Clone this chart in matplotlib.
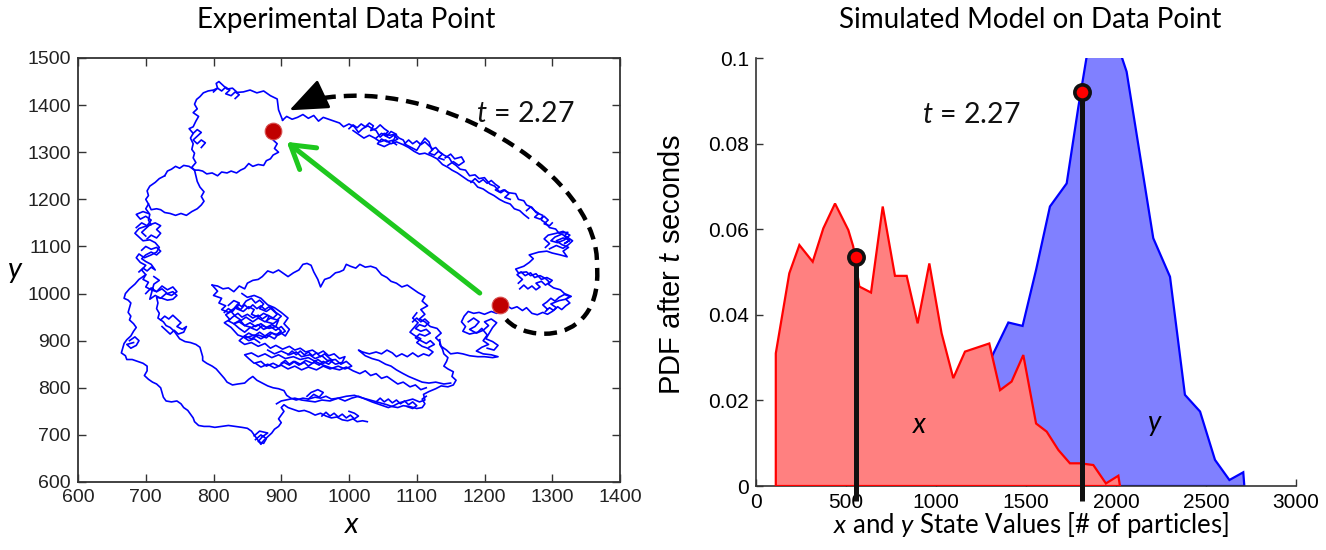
import matplotlib
matplotlib.use("Agg")
import matplotlib.pyplot as plt
import numpy as np
from matplotlib.path import Path
from matplotlib.patches import PathPatch

plt.rcParams['mathtext.fontset'] = 'custom'
plt.rcParams['mathtext.it'] = 'Lato:italic'
plt.rcParams['mathtext.rm'] = 'Lato'

# ---------------- Left panel: experimental trajectory (strands) -------------
top_arc = [(1325,1112),(1318,1122),(1323,1130),(1310,1128),(1305,1137),(1296,1140),(1290,1150),(1284,1156),
           (1286,1166),(1276,1172),(1270,1183),(1262,1188),(1258,1197),(1250,1200),(1246,1212),(1236,1214),
           (1228,1220),(1222,1216),(1215,1228),(1208,1232),(1200,1246),(1192,1244),(1186,1252),(1178,1250),
           (1172,1262),(1164,1264),(1158,1272),(1152,1278),(1148,1288),(1140,1294),(1134,1300),(1128,1310),
           (1122,1306),(1118,1322),(1112,1330),(1106,1318),(1100,1304),(1092,1310),(1084,1316),(1080,1326),
           (1074,1330),(1068,1338),(1060,1336),(1052,1340),(1046,1332),(1040,1346),(1034,1350),(1028,1356),
           (1020,1350),(1014,1342),(1008,1354),(1000,1360),(992,1354),(986,1362),(978,1366),(970,1370),
           (962,1374),(955,1366),(948,1378),(940,1372),(932,1380),(924,1374),(916,1370),(908,1376),(902,1368)]
top_arc2 = [(1265,1160),(1258,1168),(1252,1176),(1244,1180),(1238,1190),(1230,1194),(1222,1200),(1214,1208),
            (1206,1214),(1198,1222),(1190,1226),(1184,1236),(1176,1240),(1168,1248),(1160,1256),(1152,1262),
            (1146,1268),(1138,1274),(1130,1286),(1122,1292),(1112,1298),(1104,1296),(1096,1302),(1088,1310),
            (1080,1316),(1070,1322),(1062,1318),(1054,1326),(1046,1322),(1038,1330),(1030,1336),(1022,1330),
            (1014,1338),(1006,1346)]
right_side = [(1232,975),(1240,968),(1248,972),(1256,964),(1262,970),(1270,958),(1278,955),(1286,960),
              (1293,956),(1300,962),(1306,970),(1298,978),(1310,985),(1320,988),(1328,994),(1318,1000),
              (1312,1008),(1302,1012),(1294,1020),(1300,1028),(1292,1034),(1284,1030),(1276,1042),(1268,1038),
              (1262,1046),(1250,1044),(1246,1052),(1258,1058),(1266,1066),(1272,1074),(1266,1082),(1280,1088),
              (1292,1090),(1300,1086),(1312,1082),(1322,1078),(1316,1090),(1324,1098),(1314,1104),(1306,1112),
              (1316,1118),(1326,1114),(1318,1106),(1325,1112)]
dot1_cluster = [(1232,975),(1226,962),(1218,958),(1210,962),(1200,956),(1192,960),(1184,958),(1176,962),
                (1170,952),(1166,940),(1172,930),(1168,920),(1178,914),(1190,918),(1196,926),(1204,912),
                (1198,900),(1206,892),(1196,886),(1188,878),(1198,872),(1210,870),(1220,866),(1212,864),
                (1200,866),(1190,866),(1178,868),(1168,872),(1160,874),(1150,872),(1144,880),(1136,888),
                (1134,898),(1128,906),(1136,916),(1130,926),(1120,930),(1112,940),(1104,946),(1112,956),
                (1106,966),(1116,974),(1108,984),(1112,994),(1102,1002),(1094,1010),(1086,1018),(1078,1014),
                (1070,1022),(1062,1026),(1056,1034),(1048,1040),(1040,1054),(1032,1058),(1024,1056),
                (1016,1062),(1010,1054),(1002,1058),(996,1062),(992,1050),(986,1046),(980,1044),(972,1034),
                (964,1030),(958,1014),(954,1030),(948,1046),(944,1060),(938,1064),(932,1062),(926,1050),
                (918,1044),(910,1036),(904,1042),(896,1050),(888,1044),(880,1048),(872,1036),(866,1030),
                (858,1028),(850,1022),(846,1010),(838,1016),(830,1004),(822,1012),(814,1010),(806,1016),(798,1018)]
inner_dense = [(798,1018),(806,1005),(800,996),(812,990),(808,980),(818,974),(812,966),(822,960),(830,968),
               (836,978),(842,972),(848,984),(856,990),(862,980),(868,986),(874,978),(868,968),(878,962),
               (886,970),(892,960),(900,952),(894,944),(884,948),(876,940),(866,948),(858,940),(848,950),
               (840,942),(846,932),(856,928),(866,934),(874,924),(884,930),(892,922),(900,930),(906,920),
               (896,912),(886,916),(878,906),(866,912),(856,904),(846,910),(838,900),(846,892),(856,896),
               (866,888),(876,894),(884,884),(892,890),(902,882),(912,888),(920,880),(928,884),(936,876),
               (946,880),(954,872),(962,878),(970,868),(978,872),(986,862),(994,866),(990,854),(980,850),
               (972,858),(962,852),(954,860),(946,852),(936,858),(928,850),(920,856),(912,848),(904,854),
               (896,846),(888,852),(878,846),(870,856),(860,852),(852,862),(846,870),(856,874),(866,866),
               (876,872),(886,864),(896,870),(906,862),(918,866),(928,860),(940,864),(950,856),(962,848),
               (974,842),(986,838),(996,844),(1006,836),(1016,830),(1024,836),(1032,826),(1040,830),
               (1048,820),(1056,824),(1064,816),(1072,808),(1080,812),(1090,802),(1098,806),(1106,796),(1114,800)]
inner_right = [(1100,959),(1094,948),(1102,938),(1096,928),(1090,918),(1098,910),(1106,904),(1100,896),
               (1108,888),(1116,884),(1124,876),(1118,868),(1110,872),(1102,866),(1094,874),(1086,866),
               (1078,872),(1070,866),(1064,874),(1056,880),(1048,872),(1040,876),(1030,872),(1020,876),
               (1014,880),(1024,868),(1034,862),(1044,858),(1054,850),(1062,846),(1070,838),(1080,830),
               (1088,824),(1098,818),(1108,812),(1118,810),(1128,812),(1140,808),(1150,810)]
top_left_loop = [(902,1368),(896,1390),(894,1413),(884,1420),(874,1430),(864,1426),(854,1432),(844,1428),
                 (835,1427),(828,1436),(820,1434),(814,1442),(808,1450),(804,1446),(806,1436),(800,1432),
                 (792,1430),(785,1426),(780,1418),(775,1412),(772,1402),(776,1392),(770,1384),(778,1376),
                 (774,1366),(770,1354),(764,1350),(770,1340),(766,1330),(770,1318),(768,1306),(772,1298),
                 (770,1288),(774,1278),(768,1268),(772,1262)]
top_left_low = [(892,1335),(888,1326),(894,1318),(890,1308),(896,1300),(888,1294),(884,1286),(878,1282),
                (874,1272),(866,1274),(858,1270),(852,1276),(846,1266),(840,1262),(834,1256),(826,1260),
                (820,1256),(812,1258),(806,1250),(798,1256),(790,1254),(784,1260),(778,1262),(772,1262),
                (764,1270),(756,1272),(750,1266),(744,1270),(738,1264),(732,1260),(728,1250)]
left_loop = [(728,1250),(720,1244),(714,1236),(706,1228),(702,1218),(704,1208),(700,1200),(704,1190),
             (708,1178),(716,1180),(722,1178),(728,1172),(736,1170),(744,1166),(752,1170),(760,1166),
             (768,1174),(776,1180),(782,1188),(786,1196),(782,1206),(786,1216),(780,1226),(776,1238),
             (774,1250),(772,1262)]
middle_ring = [(704,1190),(700,1180),(706,1168),(704,1156),(708,1146),(698,1142),(690,1138),(684,1128),
               (690,1120),(696,1112),(706,1114),(714,1108),(720,1098),(716,1088),(708,1082),(698,1076),
               (690,1084),(686,1076),(692,1066),(700,1060),(694,1050),(700,1040),(696,1030),(704,1024),
               (700,1014),(708,1008),(716,1004),(724,1010),(732,1000),(740,1004),(746,996),(740,988),
               (732,986),(724,990),(716,992),(718,980),(716,968),(720,958),(718,948),(726,940),(730,932),
               (736,928),(742,920),(746,912),(750,904),(758,898),(766,896),(774,892),(780,886),(782,876),
               (784,866),(784,858),(790,852),(798,846),(804,840),(810,830),(816,820),(820,812),(828,806),
               (836,808),(846,810),(852,818),(858,824),(864,816),(872,810),(880,804),(888,800),(896,798),
               (904,794),(908,784),(914,778),(922,774),(932,778),(940,776),(950,780),(958,778),(966,782),
               (974,776),(984,778),(994,772),(1004,778),(1014,782),(1024,776),(1034,770),(1042,766),
               (1050,762),(1058,758),(1066,762),(1074,768),(1084,772),(1094,776),(1104,770),(1112,774),
               (1110,786),(1118,792),(1128,798),(1136,804),(1146,802),(1154,806),(1158,816),(1152,824),
               (1154,834),(1146,840),(1140,846),(1144,856),(1146,864),(1140,872),(1138,882),(1134,892),(1134,902)]
outer_ring = [(700,1040),(690,1030),(684,1020),(676,1010),(670,1000),(668,990),(674,986),(678,980),
              (676,970),(674,960),(678,952),(676,944),(682,936),(686,928),(682,920),(678,910),(672,902),
              (668,894),(666,884),(664,874),(670,868),(672,860),(680,860),(688,856),(696,852),(702,846),
              (702,836),(698,826),(704,818),(710,812),(716,808),(722,800),(724,790),(726,780),(730,772),
              (738,770),(746,772),(752,766),(756,758),(762,752),(766,744),(770,736),(772,728),(778,720),
              (786,718),(794,718),(802,716),(812,718),(822,720),(832,718),(842,716),(850,714),(856,708),
              (860,700),(864,692),(868,684),(870,680),(874,688),(880,696),(886,704),(890,712),(896,718),
              (900,726),(896,734),(900,742),(904,750),(900,758),(904,764),(910,758),(918,754),(926,750),
              (934,752),(942,748),(950,742),(958,746),(966,740),(974,736),(982,738),(990,732),(998,730),
              (1006,734),(1012,728),(1020,730),(1027,728)]
bottom_upper = [(893,766),(900,772),(910,775),(920,778),(930,774),(940,772),(950,770),(960,774),(972,772),
                (984,778),(996,782),(1008,784),(1016,780),(1026,776),(1036,772),(1046,768),(1056,764),
                (1064,760),(1072,758),(1080,762),(1090,760),(1100,756),(1108,758),(1112,766),(1108,776),(1114,782)]
scribble_inner = [(822,975),(830,985),(838,980),(834,968),(844,962),(852,972),(860,966),(856,956),(866,950),
                  (874,958),(882,952),(878,940),(888,936),(896,944),(892,930),(882,926),(872,932),(864,922),
                  (854,928),(846,918),(838,926),(830,936),(840,944),(832,952),(826,962),(818,955),(824,945),
                  (816,938),(826,928),(836,912),(848,906),(860,912),(870,904),(880,912),(890,904),(898,918),
                  (906,910),(912,924),(904,936),(910,948),(900,960),(890,970),(880,976),(870,990),(860,996),
                  (850,992),(842,1000)]
scribble_band = [(880,880),(890,872),(900,878),(912,870),(922,876),(930,866),(942,870),(950,862),(960,868),
                 (968,858),(980,860),(988,850),(996,856),(1004,846),(994,840),(984,846),(972,840),(962,846),
                 (952,838),(940,844),(930,838),(920,846),(910,840),(900,848),(890,842),(880,850),(870,844),(862,852)]
scribble_rblob = [(1296,1095),(1306,1102),(1316,1096),(1324,1104),(1330,1112),(1322,1120),(1314,1126),
                  (1304,1120),(1298,1112),(1308,1108),(1318,1114),(1326,1124),(1316,1132),(1306,1128),
                  (1294,1124),(1288,1116),(1296,1106),(1290,1098)]
scribble_arc1 = [(1040,1330),(1048,1340),(1056,1334),(1062,1344),(1070,1338),(1066,1326),(1056,1322),
                 (1048,1328),(1042,1318),(1052,1312),(1060,1318)]
scribble_arc2 = [(1146,1272),(1154,1280),(1162,1272),(1170,1280),(1166,1290),(1156,1286),(1150,1296),(1142,1288)]
scribble_left1 = [(700,1000),(708,1012),(716,1004),(724,1016),(732,1008),(740,1014),(746,1004),(738,996),
                  (730,1000),(722,990),(714,996),(706,988),(712,1020),(720,1028),(712,1036)]
scribble_left2 = [(686,1140),(694,1150),(702,1144),(708,1156),(700,1164),(692,1158),(686,1168),(696,1174),(704,1170)]
scribble_left3 = [(676,900),(684,908),(690,900),(686,890),(678,884),(672,892),(682,896)]
scribble_bot1 = [(862,690),(870,700),(878,692),(874,682),(866,686),(872,696),(880,704),(868,708),(860,698)]
scribble_bot2 = [(940,776),(948,786),(956,780),(962,790),(954,796),(944,790),(938,782)]
scribble_dot1 = [(1176,940),(1184,948),(1192,940),(1186,930),(1178,924),(1188,916),(1198,922),(1206,932),
                 (1200,940),(1210,946),(1218,938),(1212,928),(1202,904),(1212,898),(1220,890),(1214,880),(1204,884)]
scr_arc_a = [(1000,1350),(1006,1358),(1012,1352),(1018,1360),(1024,1354),(1030,1362),(1036,1356),(1032,1346),
             (1040,1350),(1046,1358),(1052,1350),(1058,1344),(1052,1336),(1060,1330),(1066,1336),(1072,1328),
             (1064,1322),(1070,1316)]
scr_arc_b = [(1082,1318),(1088,1326),(1094,1318),(1100,1324),(1106,1316),(1112,1322),(1118,1314),(1124,1306),
             (1118,1298),(1126,1294),(1132,1302),(1138,1296),(1132,1288),(1140,1284)]
scr_arc_c = [(1180,1236),(1186,1244),(1192,1236),(1198,1242),(1204,1234),(1210,1240),(1216,1232),(1222,1226),
             (1216,1220),(1224,1214),(1230,1220),(1236,1212),(1230,1204),(1238,1200)]
scr_arc_d = [(1262,1176),(1268,1184),(1274,1176),(1280,1170),(1274,1162),(1282,1158),(1288,1164),(1294,1156),
             (1288,1148),(1296,1144),(1300,1150)]
scr_right_a = [(1252,1010),(1258,1018),(1264,1010),(1270,1016),(1276,1008),(1282,1014),(1276,1022),(1284,1026),
               (1290,1018),(1296,1024),(1290,1032),(1282,1038),(1274,1034),(1268,1044),(1260,1038),(1254,1046),
               (1248,1040),(1256,1030),(1250,1022)]
scr_right_b = [(1290,962),(1296,970),(1302,964),(1308,972),(1314,966),(1320,974),(1326,980),(1320,988),
               (1326,994),(1318,998),(1310,992),(1304,984),(1298,990),(1292,982),(1286,976),(1292,968)]
scr_left_a = [(690,1046),(696,1054),(702,1048),(708,1056),(714,1050),(708,1062),(700,1068),(694,1074),
              (700,1082),(708,1088),(716,1082),(722,1090),(716,1098),(708,1094),(700,1100),(694,1092)]
scr_left_b = [(702,1116),(708,1124),(716,1118),(722,1128),(716,1136),(722,1144),(714,1150),(706,1146),
              (700,1138),(694,1130),(700,1122)]
scr_left_c = [(722,944),(728,952),(734,946),(740,954),(746,946),(752,938),(746,930),(754,924),(760,930),
              (756,918),(748,914),(742,922),(736,914),(730,922),(724,930)]
scr_inner_a = [(816,960),(822,968),(828,962),(834,972),(840,966),(846,976),(852,968),(858,976),(864,968),
               (870,974),(876,966),(882,972),(888,964),(894,956),(888,948),(880,954),(872,946),(866,954),
               (858,948),(850,956),(842,950),(836,958),(828,950),(822,942),(830,936),(838,940),(846,932),
               (854,938),(862,930),(870,936),(878,928),(886,934),(894,928),(900,920),(892,912),(884,918),
               (876,910),(868,918),(860,910),(852,916),(844,908),(852,900),(860,904),(868,896)]
scr_inner_b = [(910,870),(916,878),(922,870),(928,878),(934,870),(940,876),(946,868),(952,874),(958,866),
               (964,872),(970,864),(976,858),(970,850),(962,856),(956,848),(948,854),(940,846),(934,854),
               (926,848),(918,856),(912,850),(906,858),(900,852)]
scr_inner_c = [(1094,940),(1100,948),(1106,940),(1112,946),(1118,938),(1112,930),(1104,934),(1098,926),
               (1106,920),(1114,924),(1120,916),(1112,910),(1104,914),(1098,906),(1106,900),(1114,894),
               (1120,900),(1126,892),(1118,886)]
scr_bot_a = [(1040,770),(1046,778),(1052,770),(1058,776),(1064,768),(1070,774),(1076,766),(1082,772),
             (1088,764),(1094,770),(1100,762),(1094,756),(1086,760)]
scr_bot_b = [(960,740),(966,748),(972,740),(978,746),(984,738),(990,744),(996,736),(1002,742),(1008,734),
             (1014,740),(1008,746),(1000,750)]
scr_tl_a = [(800,1428),(806,1436),(812,1430),(818,1438),(824,1432),(818,1424),(826,1420),(832,1428),
            (838,1422),(832,1414)]
scr_tl_b = [(770,1340),(776,1348),(782,1342),(776,1334),(770,1326),(776,1318),(782,1326),(788,1320),(782,1310)]
strands = [top_arc, top_arc2, right_side, dot1_cluster, inner_dense, inner_right, top_left_loop,
           top_left_low, left_loop, middle_ring, outer_ring, bottom_upper, scribble_inner, scribble_band,
           scribble_rblob, scribble_arc1, scribble_arc2, scribble_left1, scribble_left2, scribble_left3,
           scribble_bot1, scribble_bot2, scribble_dot1, scr_arc_a, scr_arc_b, scr_arc_c, scr_arc_d,
           scr_right_a, scr_right_b, scr_left_a, scr_left_b, scr_left_c, scr_inner_a, scr_inner_b,
           scr_inner_c, scr_bot_a, scr_bot_b, scr_tl_a, scr_tl_b]

dots_x = [888, 1223]
dots_y = [1345, 976]

# ---------------- Right panel: simulated PDFs ----------------
x_state = [110, 110, 185, 241, 315, 374, 439, 513, 540, 574, 639, 704, 772, 837, 898, 963, 1031, 1096,
           1161, 1296, 1356, 1420, 1485, 1556, 1615, 1680, 1744, 1800, 1874, 1944, 2013, 2022]
x_pdf = [0, 0.0310, 0.0497, 0.0563, 0.0524, 0.0602, 0.0660, 0.0598, 0.0560, 0.0466, 0.0452, 0.0653,
         0.0491, 0.0491, 0.0380, 0.0520, 0.0357, 0.0252, 0.0314, 0.0333, 0.0224, 0.0244, 0.0306, 0.0146,
         0.0127, 0.0084, 0.0053, 0.0053, 0.0049, 0.0006, 0.0024, 0]
y_state = [700, 900, 1100, 1200, 1319, 1402, 1481, 1556, 1633, 1726, 1791, 1837, 1880, 1960, 2010,
           2059, 2207, 2300, 2383, 2467, 2550, 2630, 2707, 2713]
y_pdf = [0, 0.006, 0.014, 0.020, 0.031, 0.0382, 0.0374, 0.0505, 0.0653, 0.0707, 0.0886, 0.1003,
         0.105, 0.107, 0.103, 0.0968, 0.0579, 0.0489, 0.0213, 0.0174, 0.0061, 0.0014, 0.0032, 0]
stem_x = [555, 1813]
stem_y = [0.0536, 0.0920]

# ---------------- Figure ----------------
W, H = 1326, 550
fig = plt.figure(figsize=(W / 100, H / 100), dpi=100)
ax1 = fig.add_axes([78 / W, 1 - 482 / H, 542 / W, 424 / H])
ax2 = fig.add_axes([756 / W, 1 - 486 / H, 540 / W, 428 / H])

for s in strands:
    xs, ys = zip(*s)
    ax1.plot(xs, ys, color='#0000ff', lw=1.2, zorder=2)

ax1.set_xlim(600, 1400)
ax1.set_ylim(600, 1500)
ax1.set_xticks(np.arange(600, 1401, 100))
ax1.set_yticks(np.arange(600, 1501, 100))
ax1.tick_params(direction='in', top=True, right=True, length=6, width=1, colors='#333333',
                labelsize=14, pad=5)
for lab in ax1.get_xticklabels() + ax1.get_yticklabels():
    lab.set_fontfamily(['Liberation Sans Narrow', 'DejaVu Sans Condensed', 'Liberation Sans'])
    lab.set_color('#222222')
for sp in ax1.spines.values():
    sp.set_color('#333333')
    sp.set_linewidth(1.3)

# dashed loop annotation
verts = [(1232, 945), (1262, 895), (1375, 890), (1366, 1060),
         (1370, 1230), (1180, 1420), (1010, 1420),
         (975, 1419), (955, 1415), (940, 1408)]
codes = [Path.MOVETO] + [Path.CURVE4] * 9
ax1.add_patch(PathPatch(Path(verts, codes), fill=False, edgecolor='black', lw=3.2,
                        linestyle=(0, (2.9, 1.8)), zorder=3))
ax1.annotate('', xy=(912, 1389), xytext=(946, 1412),
             arrowprops=dict(arrowstyle='-|>,head_length=1.6,head_width=0.65', color='black',
                             lw=2, mutation_scale=15, shrinkA=0, shrinkB=0), zorder=4)
# green arrow
ax1.annotate('', xy=(908, 1322), xytext=(1193, 1001),
             arrowprops=dict(arrowstyle='->,head_length=0.9,head_width=0.55', color='#1ec81e',
                             lw=3.6, mutation_scale=18, shrinkA=0, shrinkB=0), zorder=4)
ax1.plot(dots_x, dots_y, 'o', color='#c00000', markersize=12, markeredgecolor='#d85050',
         markeredgewidth=0.8, zorder=5)
ax1.text(1187, 1381, '$t$ = 2.27', fontsize=20.5, family='Lato', va='center', ha='left', color='#111111')

# right panel
ax2.fill(y_state, y_pdf, facecolor='#8080ff', edgecolor='#0000ff', lw=1.6, zorder=2)
ax2.fill(x_state, x_pdf, facecolor='#ff8080', edgecolor='#ff0000', lw=1.6, zorder=3)
ax2.vlines(stem_x, -0.0035, stem_y, colors='#111111', lw=3.6, zorder=4, clip_on=False)
ax2.plot(stem_x, stem_y, 'o', color='#ff0000', markersize=11, markeredgecolor='#111111',
         markeredgewidth=2.6, zorder=5, clip_on=False)
ax2.set_xlim(0, 3000)
ax2.set_ylim(0, 0.1)
ax2.set_xticks(np.arange(0, 3001, 500))
ax2.set_yticks(np.arange(0, 0.1001, 0.02))
ax2.set_yticklabels(['0', '0.02', '0.04', '0.06', '0.08', '0.1'])
ax2.tick_params(direction='in', length=5, width=1, colors='#333333', labelsize=15, pad=5)
for lab in ax2.get_xticklabels() + ax2.get_yticklabels():
    lab.set_fontfamily('Liberation Sans')
    lab.set_color('black')
ax2.spines['top'].set_visible(False)
ax2.spines['right'].set_visible(False)
for sp in ('left', 'bottom'):
    ax2.spines[sp].set_color('#333333')
    ax2.spines[sp].set_linewidth(1.2)
ax2.text(922, 0.0867, '$t$ = 2.27', fontsize=20.5, family='Lato', va='center', ha='left', color='#111111')
ax2.text(911, 0.0143, '$x$', fontsize=20, family='Lato', va='center', ha='center')
ax2.text(2217, 0.0143, '$y$', fontsize=20, family='Lato', va='center', ha='center')

# titles and axis labels
fig.text(346 / W, 1 - 20 / H, 'Experimental Data Point', fontsize=20, family='Lato',
         ha='center', va='center')
fig.text(1030 / W, 1 - 20 / H, 'Simulated Model on Data Point', fontsize=20, family='Lato',
         ha='center', va='center')
fig.text(15 / W, 1 - 272 / H, '$y$', fontsize=21, family='Lato', ha='center', va='center')
fig.text(352 / W, 1 - 525 / H, '$x$', fontsize=21, family='Lato', ha='center', va='center')
fig.text(672 / W, 1 - 265 / H, 'PDF after $t$ seconds', fontsize=21, family='Liberation Sans',
         ha='center', va='center', rotation=90)
fig.text(1031 / W, 1 - 525 / H, '$x$ and $y$ State Values [# of particles]', fontsize=18.5,
         family='Lato', ha='center', va='center')

fig.savefig('out.png', dpi=100)
